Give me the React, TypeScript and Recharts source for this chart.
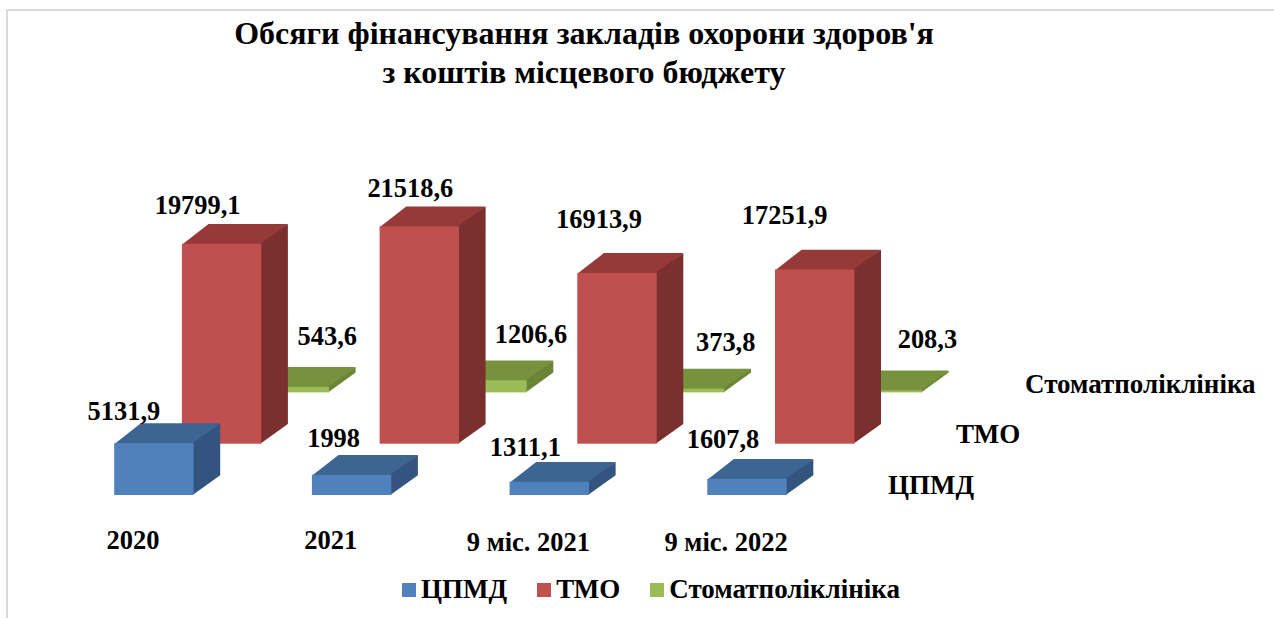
import { Bar, BarChart, LabelList, Legend, XAxis, YAxis } from 'recharts'

const categories = ['2020', '2021', '9 міс. 2021', '9 міс. 2022']
const cpmd = [5131.9, 1998, 1311.1, 1607.8]
const tmo = [19799.1, 21518.6, 16913.9, 17251.9]
const dental = [543.6, 1206.6, 373.8, 208.3]

const data = categories.map((name, i) => ({ name, cpmd: cpmd[i], tmo: tmo[i], dental: dental[i] }))

const FONT = '"Liberation Serif", "Times New Roman", serif'
const SERIES_NAMES = ['ЦПМД', 'ТМО', 'Стоматполіклініка']

// depth of the fake 3d box
const DX = 26.6
const DY = 19.8
// each series sits one row deeper, moved right by this and lifted via the y domain
const ROW_X = 67.7
const DOMAIN_SPAN = 35150
const ROW_LIFT = 5080

// hand placed labels, relative to the front top centre of each bar
const cpmdNudge = [[-30, -23], [-18, -28], [-24, -26], [-24, -31]]
const tmoNudge = [[-24, -30], [-9, -29], [-18, -45], [-30, -45]]
const dentalNudge = [[38, -42], [44, -37], [41, -38], [45, -42]]
const tickNudge = [0, 0, 2, 2]

const box = (front: string, top: string, side: string) => (p: any) => {
  const { x, y, width, height } = p
  const r = x + width
  const b = y + height
  // side and top run 1px under the front face, otherwise the row behind shows through the seam
  return (
    <g>
      <polygon points={`${x},${y + 1} ${x + DX},${y - DY} ${r + DX},${y - DY} ${r},${y + 1}`} fill={top} />
      <polygon points={`${r - 1},${y} ${r + DX},${y - DY} ${r + DX},${b - DY} ${r - 1},${b}`} fill={side} />
      <rect x={x} y={y} width={width} height={height} fill={front} />
    </g>
  )
}

const valueLabel = (nudge: number[][]) => (p: any) => {
  const [dx, dy] = nudge[p.index]
  return (
    <text
      x={p.x + p.width / 2 + dx}
      y={p.y + dy}
      textAnchor="middle"
      fontFamily={FONT}
      fontWeight="bold"
      fontSize={26.4}
      fill="#000"
    >
      {String(p.value).replace('.', ',')}
    </text>
  )
}

const CategoryTick = (p: any) => (
  <text x={p.x - 21} y={p.y + 16 + tickNudge[p.index]} textAnchor="middle" fontFamily={FONT} fontWeight="bold" fontSize={26.5} fill="#000">
    {p.payload.value}
  </text>
)

const legendColors = ['#4F81BD', '#C0504D', '#9BBB59']

const ChartLegend = () => (
  <div style={{ display: 'flex', justifyContent: 'center', alignItems: 'center', fontFamily: FONT, fontWeight: 'bold', fontSize: 27, color: '#000' }}>
    {SERIES_NAMES.map((n, i) => (
      <span key={n} style={{ display: 'flex', alignItems: 'center', marginLeft: i ? 30 : 0 }}>
        <span style={{ width: 14, height: 14, background: legendColors[i], marginRight: 5 }} />
        {n}
      </span>
    ))}
  </div>
)

const depthText = { fontFamily: FONT, fontWeight: 'bold', fontSize: 27, fill: '#000' }

export default function App() {
  return (
    <div style={{ position: 'absolute', left: 0, top: 0, width: 1274, height: 618, background: '#fff', overflow: 'hidden' }}>
      <div style={{ position: 'absolute', left: 6, top: 9, width: 1268, height: 609, borderTop: '2px solid #DADADA', borderLeft: '2px solid #DADADA' }} />
      <BarChart
        width={1274}
        height={618}
        data={data}
        margin={{ top: 140, right: 292.6, bottom: 33, left: 55.2 }}
        barSize={79.4}
        style={{ position: 'absolute', left: 0, top: 0 }}
      >
        <XAxis xAxisId="front" dataKey="name" axisLine={false} tickLine={false} height={60} interval={0} padding={{ left: 0, right: ROW_X * 2 }} tick={<CategoryTick />} />
        <XAxis xAxisId="mid" dataKey="name" hide padding={{ left: ROW_X, right: ROW_X }} />
        <XAxis xAxisId="back" dataKey="name" hide padding={{ left: ROW_X * 2, right: 0 }} />
        <YAxis yAxisId="front" hide domain={[0, DOMAIN_SPAN]} />
        <YAxis yAxisId="mid" hide domain={[-ROW_LIFT, DOMAIN_SPAN - ROW_LIFT]} />
        <YAxis yAxisId="back" hide domain={[-ROW_LIFT * 2, DOMAIN_SPAN - ROW_LIFT * 2]} />
        <Legend content={<ChartLegend />} height={30} wrapperStyle={{ position: 'absolute', left: 0, width: 1302, top: 574 }} />
        {/* painted back to front so the nearer row covers the deeper ones */}
        <Bar xAxisId="back" yAxisId="back" dataKey="dental" name="Стоматполіклініка" isAnimationActive={false} shape={box('#9BBB59', '#76923C', '#6A8536')}>
          <LabelList dataKey="dental" content={valueLabel(dentalNudge)} />
        </Bar>
        <Bar xAxisId="mid" yAxisId="mid" dataKey="tmo" name="ТМО" isAnimationActive={false} shape={box('#C0504D', '#953A38', '#7B2F2E')}>
          <LabelList dataKey="tmo" content={valueLabel(tmoNudge)} />
        </Bar>
        <Bar xAxisId="front" yAxisId="front" dataKey="cpmd" name="ЦПМД" isAnimationActive={false} shape={box('#4F81BD', '#3D6594', '#32547F')}>
          <LabelList dataKey="cpmd" content={valueLabel(cpmdNudge)} />
        </Bar>
        <text x={584} y={44} textAnchor="middle" fontFamily={FONT} fontWeight="bold" fontSize={32} fill="#000">
          Обсяги фінансування закладів охорони здоров'я
        </text>
        <text x={584} y={83} textAnchor="middle" fontFamily={FONT} fontWeight="bold" fontSize={32} fill="#000">
          з коштів місцевого бюджету
        </text>
        <text x={888} y={494} {...depthText}>{SERIES_NAMES[0]}</text>
        <text x={956} y={443} {...depthText}>{SERIES_NAMES[1]}</text>
        <text x={1025} y={393} {...depthText}>{SERIES_NAMES[2]}</text>
      </BarChart>
    </div>
  )
}
